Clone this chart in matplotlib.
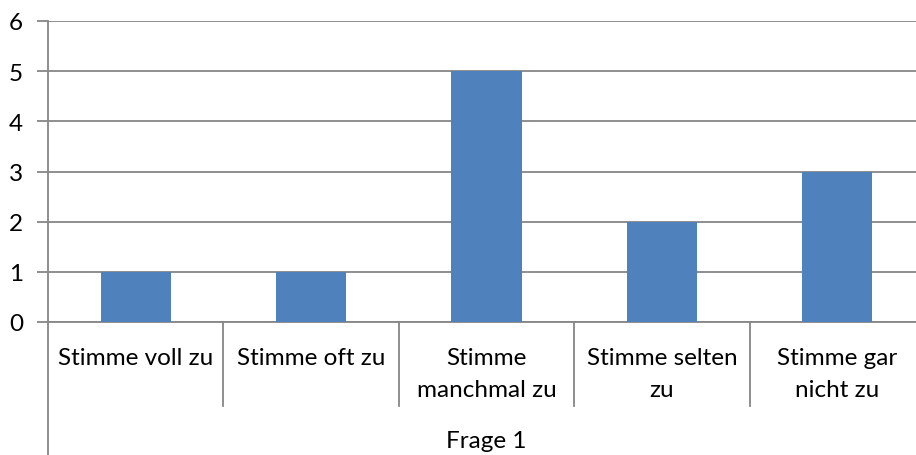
import matplotlib.pyplot as plt
import matplotlib.transforms as mtransforms
import numpy as np

# --- Data ---
categories = ['Stimme voll zu', 'Stimme oft zu', 'Stimme\nmanchmal zu',
              'Stimme selten\nzu', 'Stimme gar\nnicht zu']
values = [1, 1, 5, 2, 3]
group_label = 'Frage 1'
y_ticks = [0, 1, 2, 3, 4, 5, 6]

bar_color = '#4F81BD'
line_color = '#868686'
fs = 17.5
plt.rcParams['font.family'] = ['Lato', 'DejaVu Sans']

fig = plt.figure(figsize=(9.16, 4.56), dpi=100)
# plot area runs a bit past the right edge, as in the reference crop
ax = fig.add_axes([48 / 916, 133 / 456, 877 / 916, 301 / 456])

x = np.arange(len(categories))
ax.bar(x, values, width=0.4, color=bar_color, zorder=3)

ax.set_xlim(-0.5, len(categories) - 0.5)
ax.set_ylim(0, 6)
ax.set_yticks(y_ticks)
ax.yaxis.grid(True, color=line_color, linewidth=1.3, zorder=0)
ax.tick_params(axis='y', length=8, width=1.3, color=line_color,
               labelsize=fs, pad=10)
ax.set_xticks([])

for side in ['top', 'right']:
    ax.spines[side].set_visible(False)
ax.spines['left'].set_color(line_color)
ax.spines['left'].set_linewidth(1.3)
ax.spines['bottom'].set_color(line_color)
ax.spines['bottom'].set_linewidth(1.3)

# --- Multi-level category axis ---
trans = mtransforms.blended_transform_factory(ax.transData, ax.transAxes)
for b in np.arange(len(categories)) + 0.5:
    ax.axvline(b, ymin=-84 / 301, ymax=0, color=line_color,
               linewidth=1.3, clip_on=False)
ax.axvline(-0.5, ymin=-133 / 301, ymax=0, color=line_color,
           linewidth=1.3, clip_on=False)

for i, label in enumerate(categories):
    ax.text(i, -0.082, label, transform=trans, ha='center', va='top',
            fontsize=fs, linespacing=1.65)

ax.text(0.5, -0.36, group_label, transform=ax.transAxes,
        ha='center', va='top', fontsize=fs)

fig.savefig('out.png', dpi=100)
